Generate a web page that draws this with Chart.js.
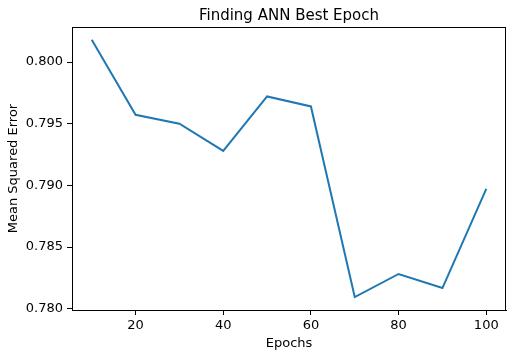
<!DOCTYPE html>
<html>
<head>
<meta charset="utf-8">
<script src="https://cdn.jsdelivr.net/npm/chart.js@4"></script>
<style>
html,body{margin:0;padding:0;background:#fff;}
#wrap{width:507px;height:353px;position:relative;}
</style>
</head>
<body>
<div id="wrap"><canvas id="c" width="507" height="353"></canvas></div>
<script>
const epochs = [10, 20, 30, 40, 50, 60, 70, 80, 90, 100];
const mseValues = [0.80181, 0.79572, 0.79500, 0.79280, 0.79721, 0.79640, 0.78095, 0.78282, 0.78168, 0.78972];
const xTickValues = [20, 40, 60, 80, 100];
const yTickValues = [0.780, 0.785, 0.790, 0.795, 0.800];
const chartTitle = 'Finding ANN Best Epoch';
const xTitle = 'Epochs';
const yTitle = 'Mean Squared Error';

const FONT = 'DejaVu Sans';

const framePlugin = {
  id: 'frame',
  afterDraw(chart) {
    const {ctx, chartArea: a} = chart;
    ctx.save();
    ctx.strokeStyle = '#000';
    ctx.lineWidth = 1;
    ctx.strokeRect(Math.round(a.left) + 0.5, Math.round(a.top) + 0.5, Math.round(a.right - a.left) - 1, Math.round(a.bottom - a.top));
    ctx.fillStyle = '#000';
    ctx.font = '15px "' + FONT + '"';
    ctx.textAlign = 'center';
    ctx.textBaseline = 'alphabetic';
    ctx.fillText(chartTitle, (a.left + a.right) / 2, 20);
    ctx.restore();
  }
};

new Chart(document.getElementById('c'), {
  type: 'line',
  data: {
    datasets: [{
      data: epochs.map((e, i) => ({x: e, y: mseValues[i]})),
      borderColor: '#1f77b4',
      borderWidth: 2,
      pointRadius: 0,
      tension: 0,
      fill: false
    }]
  },
  options: {
    responsive: false,
    animation: false,
    devicePixelRatio: 1,
    layout: {padding: {top: 27, right: 1, left: 0, bottom: 0}},
    plugins: {legend: {display: false}, tooltip: {enabled: false}, title: {display: false}},
    scales: {
      x: {
        type: 'linear',
        min: 5.5,
        max: 104.5,
        afterBuildTicks(scale) { scale.ticks = xTickValues.map(v => ({value: v})); },
        afterFit(scale) { scale.height = 43; },
        ticks: {
          color: '#000',
          font: {family: FONT, size: 13},
          padding: 3,
          maxRotation: 0,
          callback: v => String(v)
        },
        grid: {display: true, drawOnChartArea: false, drawTicks: true, tickLength: 5, tickColor: '#000'},
        border: {display: true, color: '#000', width: 1},
        title: {display: true, text: xTitle, color: '#000', font: {family: FONT, size: 13}, padding: {top: 0, bottom: 2}}
      },
      y: {
        type: 'linear',
        min: 0.77990,
        max: 0.80284,
        afterBuildTicks(scale) { scale.ticks = yTickValues.map(v => ({value: v})); },
        afterFit(scale) { scale.width = 72; },
        ticks: {
          color: '#000',
          font: {family: FONT, size: 13},
          padding: 4,
          callback: v => Number(v).toFixed(3)
        },
        grid: {display: true, drawOnChartArea: false, drawTicks: true, tickLength: 5, tickColor: '#000'},
        border: {display: true, color: '#000', width: 1},
        title: {display: true, text: yTitle, color: '#000', font: {family: FONT, size: 13}, padding: {top: 6, bottom: 0}}
      }
    }
  },
  plugins: [framePlugin]
});
</script>
</body>
</html>
